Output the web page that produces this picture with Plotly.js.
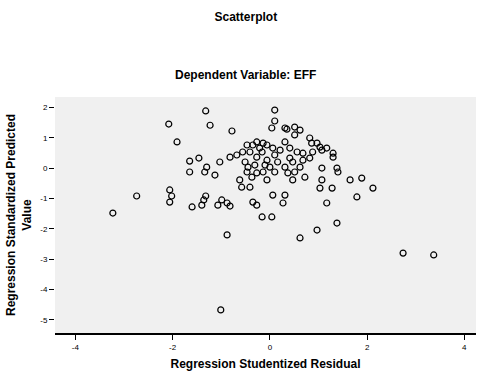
<!DOCTYPE html>
<html>
<head>
<meta charset="utf-8">
<script src="https://cdn.plot.ly/plotly-3.0.1.min.js"></script>
<style>html,body{margin:0;padding:0;background:#fff;}#chart{width:482px;height:373px;}</style>
</head>
<body>
<div id="chart"></div>
<script>
// Regression Studentized Residual (x)
const residual = [
 -1.32, 0.10, -2.08, -1.23, -0.78, 0.10, 0.04, 0.31, 0.51, 0.62,
  0.51, -1.91, 0.82, 0.97, 1.03, 1.17, 1.30, 0.88, 1.07, 1.30,
  0.31, 0.41, 0.56, 0.68, -0.47, -0.35, -0.21, -0.06, 0.06, -0.27,
 -0.82, -0.68, -0.56, -1.03, -1.65, -1.46, -1.30, -1.65, -1.34, -1.13,
 -0.51, -0.45, -0.27, -0.16, -0.06, 0.00, 0.16, 0.31, 0.47, 0.62,
  0.68, 0.82, -0.47, -0.14, 0.37, -0.27, -0.06, 0.47, -0.62, -0.58,
 -0.41, 0.72, 1.07, 1.40, 1.03, 1.28, 0.06, 0.31, 0.27, -0.35,
 -0.27, -0.99, -0.88, -0.82, 1.17, -0.16, 0.04, -0.88, 0.62, 0.97,
  1.38, 1.65, 1.89, 1.79, 2.12, 1.38, 1.07, -2.06, -2.02, -2.06,
 -1.60, -1.40, -1.32, -1.07, -1.36, -3.23, -2.74, -1.01, 2.74, 3.37,
 -0.41, -0.31, 0.10, 0.21, 0.41, -0.10, 0.51, 0.10, -0.37, 0.35,
 -0.14, 0.86
];
// Regression Standardized Predicted Value (y)
const predicted = [
  1.88, 1.91, 1.45, 1.41, 1.22, 1.55, 1.32, 1.32, 1.35, 1.25,
  1.09, 0.86, 0.99, 0.82, 0.69, 0.66, 0.49, 0.53, 0.59, 0.36,
  0.86, 0.66, 0.53, 0.49, 0.76, 0.76, 0.66, 0.76, 0.66, 0.86,
  0.36, 0.43, 0.53, 0.20, 0.23, 0.33, 0.03, -0.13, -0.13, -0.23,
  0.20, 0.03, 0.36, 0.53, 0.26, 0.03, 0.20, 0.03, 0.20, 0.03,
  0.26, 0.33, -0.13, -0.13, -0.16, -0.16, -0.39, -0.39, -0.39, -0.63,
 -0.63, -0.30, -0.39, -0.13, -0.66, -0.66, -0.89, -0.89, -1.15, -1.12,
 -1.22, -1.05, -1.15, -1.25, -1.15, -1.61, -1.61, -2.20, -2.30, -2.04,
 -1.81, -0.39, -0.33, -0.95, -0.66, 0.00, 0.00, -0.72, -0.92, -1.12,
 -1.28, -1.22, -0.92, -1.22, -1.05, -1.48, -0.92, -4.67, -2.80, -2.86,
  0.53, 0.10, 0.43, 0.59, 0.33, 0.10, -0.13, -0.13, -0.30, 1.28,
  0.82, 0.82
];
const xTicks = [-4, -2, 0, 2, 4];
const yTicks = [2, 1, 0, -1, -2, -3, -4, -5];

const fontFam = '"Liberation Sans", Arial, sans-serif';

const trace = {
  type: 'scatter',
  mode: 'markers',
  x: residual,
  y: predicted,
  marker: {symbol: 'circle-open', size: 6, color: '#000', line: {width: 1.2, color: '#000'}},
  hoverinfo: 'x+y'
};

const layout = {
  width: 482,
  height: 373,
  margin: {l: 55, r: 6, t: 97, b: 40},
  paper_bgcolor: '#ffffff',
  plot_bgcolor: '#f0f0f0',
  showlegend: false,
  font: {family: fontFam, color: '#000', size: 12},
  title: {
    text: '<b>Scatterplot</b>',
    x: 0.51, xref: 'container', xanchor: 'center',
    y: 1 - 17/373, yref: 'container', yanchor: 'middle',
    font: {family: fontFam, size: 12, color: '#000'}
  },
  annotations: [{
    text: '<b>Dependent Variable: EFF</b>',
    xref: 'paper', yref: 'paper',
    x: (245 - 55) / 421, y: (333 - 75) / 236,
    xanchor: 'center', yanchor: 'middle',
    showarrow: false,
    font: {family: fontFam, size: 12, color: '#000'}
  }],
  xaxis: {
    range: [-4.42, 4.24],
    tickvals: xTicks,
    ticktext: xTicks.map(String),
    ticks: 'outside', ticklen: 5, tickwidth: 1, tickcolor: '#000',
    showline: true, linecolor: '#000', linewidth: 2,
    showgrid: false, zeroline: false,
    tickfont: {size: 8, family: fontFam, color: '#000'},
    title: {text: '<b>Regression Studentized Residual</b>', standoff: 9,
            font: {size: 12, family: fontFam, color: '#000'}},
    automargin: false
  },
  yaxis: {
    range: [-5.43, 2.34],
    tickvals: yTicks,
    ticktext: yTicks.map(String),
    ticks: 'outside', ticklen: 5, tickwidth: 1, tickcolor: '#000',
    showline: false,
    showgrid: false, zeroline: false,
    tickfont: {size: 8, family: fontFam, color: '#000'},
    title: {text: '<b>Regression Standardized Predicted<br>Value</b>', standoff: 6,
            font: {size: 12, family: fontFam, color: '#000'}},
    automargin: false
  }
};

Plotly.newPlot('chart', [trace], layout, {displayModeBar: false});
</script>
</body>
</html>
